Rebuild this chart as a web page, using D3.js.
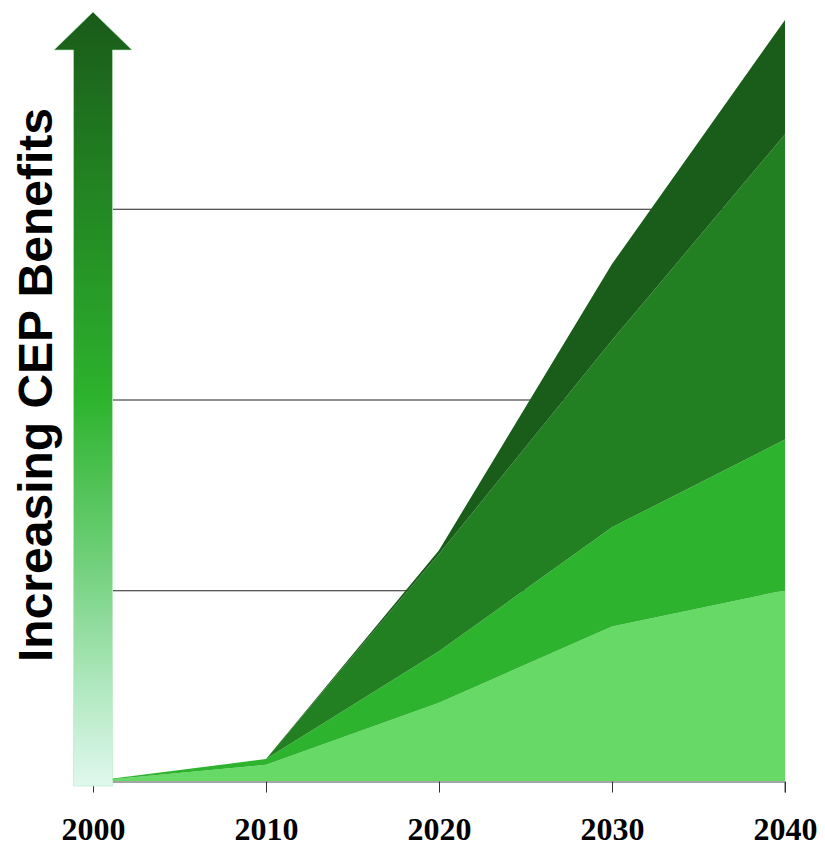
<!DOCTYPE html>
<html>
<head>
<meta charset="utf-8">
<script src="https://cdn.jsdelivr.net/npm/d3@7"></script>
<style>
  html, body { margin: 0; padding: 0; background: #ffffff; }
  svg { display: block; }
</style>
</head>
<body>
<svg id="chart" width="825" height="847"></svg>
<script>
// Years on the horizontal axis
const years = [2000, 2010, 2020, 2030, 2040];

// Benefit contributions per year, stacked bottom to top
const layer1 = [0, 0.085, 0.41, 0.81, 1.00];
const layer2 = [0, 0.03, 0.27, 0.52, 0.79];
const layer3 = [0, 0.00, 0.51, 0.98, 1.60];
const layer4 = [0, 0.00, 0.02, 0.40, 0.60];

const layerKeys = ["layer1", "layer2", "layer3", "layer4"];
const layerColors = ["#66d966", "#2db32d", "#228022", "#1a5c1a"];

// Horizontal reference lines
const gridValues = [1, 2, 3];

const yTitle = "Increasing CEP Benefits";

const rows = years.map((y, i) => ({
  year: y,
  layer1: layer1[i], layer2: layer2[i], layer3: layer3[i], layer4: layer4[i]
}));

const svg = d3.select("#chart");

const x = d3.scaleLinear().domain([2000, 2040]).range([93, 785]);
const y = d3.scaleLinear().domain([0, 4]).range([781, 18]);

const stack = d3.stack().keys(layerKeys);
const series = stack(rows);

// gridlines (behind the areas)
svg.append("g").selectAll("line")
  .data(gridValues)
  .join("line")
  .attr("x1", 113).attr("x2", x(2040))
  .attr("y1", d => y(d) + 0.5).attr("y2", d => y(d) + 0.5)
  .attr("stroke", "#222").attr("stroke-width", 1);

// stacked areas
const area = d3.area()
  .x(d => x(d.data.year))
  .y0(d => y(d[0]))
  .y1(d => y(d[1]));

svg.append("g").selectAll("path")
  .data(series)
  .join("path")
  .attr("d", area)
  .attr("fill", (d, i) => layerColors[i]);

// bottom axis
const xAxis = d3.axisBottom(x)
  .tickValues(years)
  .tickFormat(d3.format("d"))
  .tickSize(11)
  .tickPadding(30);

const axisG = svg.append("g")
  .attr("transform", `translate(0,${y(0) + 0.5})`)
  .call(xAxis);
axisG.select(".domain")
  .attr("d", `M113,0.5H${x(2040)}V11`)
  .attr("stroke", "#4a4a4a");
axisG.selectAll(".tick line").attr("stroke", "#333");
axisG.selectAll(".tick text")
  .attr("fill", "#000")
  .attr("font-family", "'Liberation Serif', 'Times New Roman', serif")
  .attr("font-weight", "bold")
  .attr("font-size", 32)
  .attr("dy", 0)
  .attr("y", 58);

// gradient arrow along the vertical axis
const defs = svg.append("defs");
const grad = defs.append("linearGradient")
  .attr("id", "arrowGrad")
  .attr("gradientUnits", "userSpaceOnUse")
  .attr("x1", 0).attr("y1", 12).attr("x2", 0).attr("y2", 786);
[
  [0.00, "#1a5a1a"],
  [0.20, "#217f21"],
  [0.50, "#2db32d"],
  [0.71, "#70d07a"],
  [0.86, "#abe6ba"],
  [1.00, "#e0f8ee"]
].forEach(([o, c]) => grad.append("stop").attr("offset", o).attr("stop-color", c));

const arrowPath = d3.path();
arrowPath.moveTo(73.5, 786);
arrowPath.lineTo(73.5, 50);
arrowPath.lineTo(54, 50);
arrowPath.lineTo(93, 12);
arrowPath.lineTo(132, 50);
arrowPath.lineTo(112.5, 50);
arrowPath.lineTo(112.5, 786);
arrowPath.closePath();

svg.append("path")
  .attr("d", arrowPath.toString())
  .attr("fill", "url(#arrowGrad)")
  .attr("stroke", "#b6e8c0")
  .attr("stroke-opacity", 0.6)
  .attr("stroke-width", 1);

// vertical title
svg.append("text")
  .attr("transform", "translate(52,385) rotate(-90)")
  .attr("text-anchor", "middle")
  .attr("font-family", "'Liberation Sans', Arial, sans-serif")
  .attr("font-weight", "bold")
  .attr("font-size", 48)
  .attr("fill", "#000")
  .text(yTitle);
</script>
</body>
</html>
